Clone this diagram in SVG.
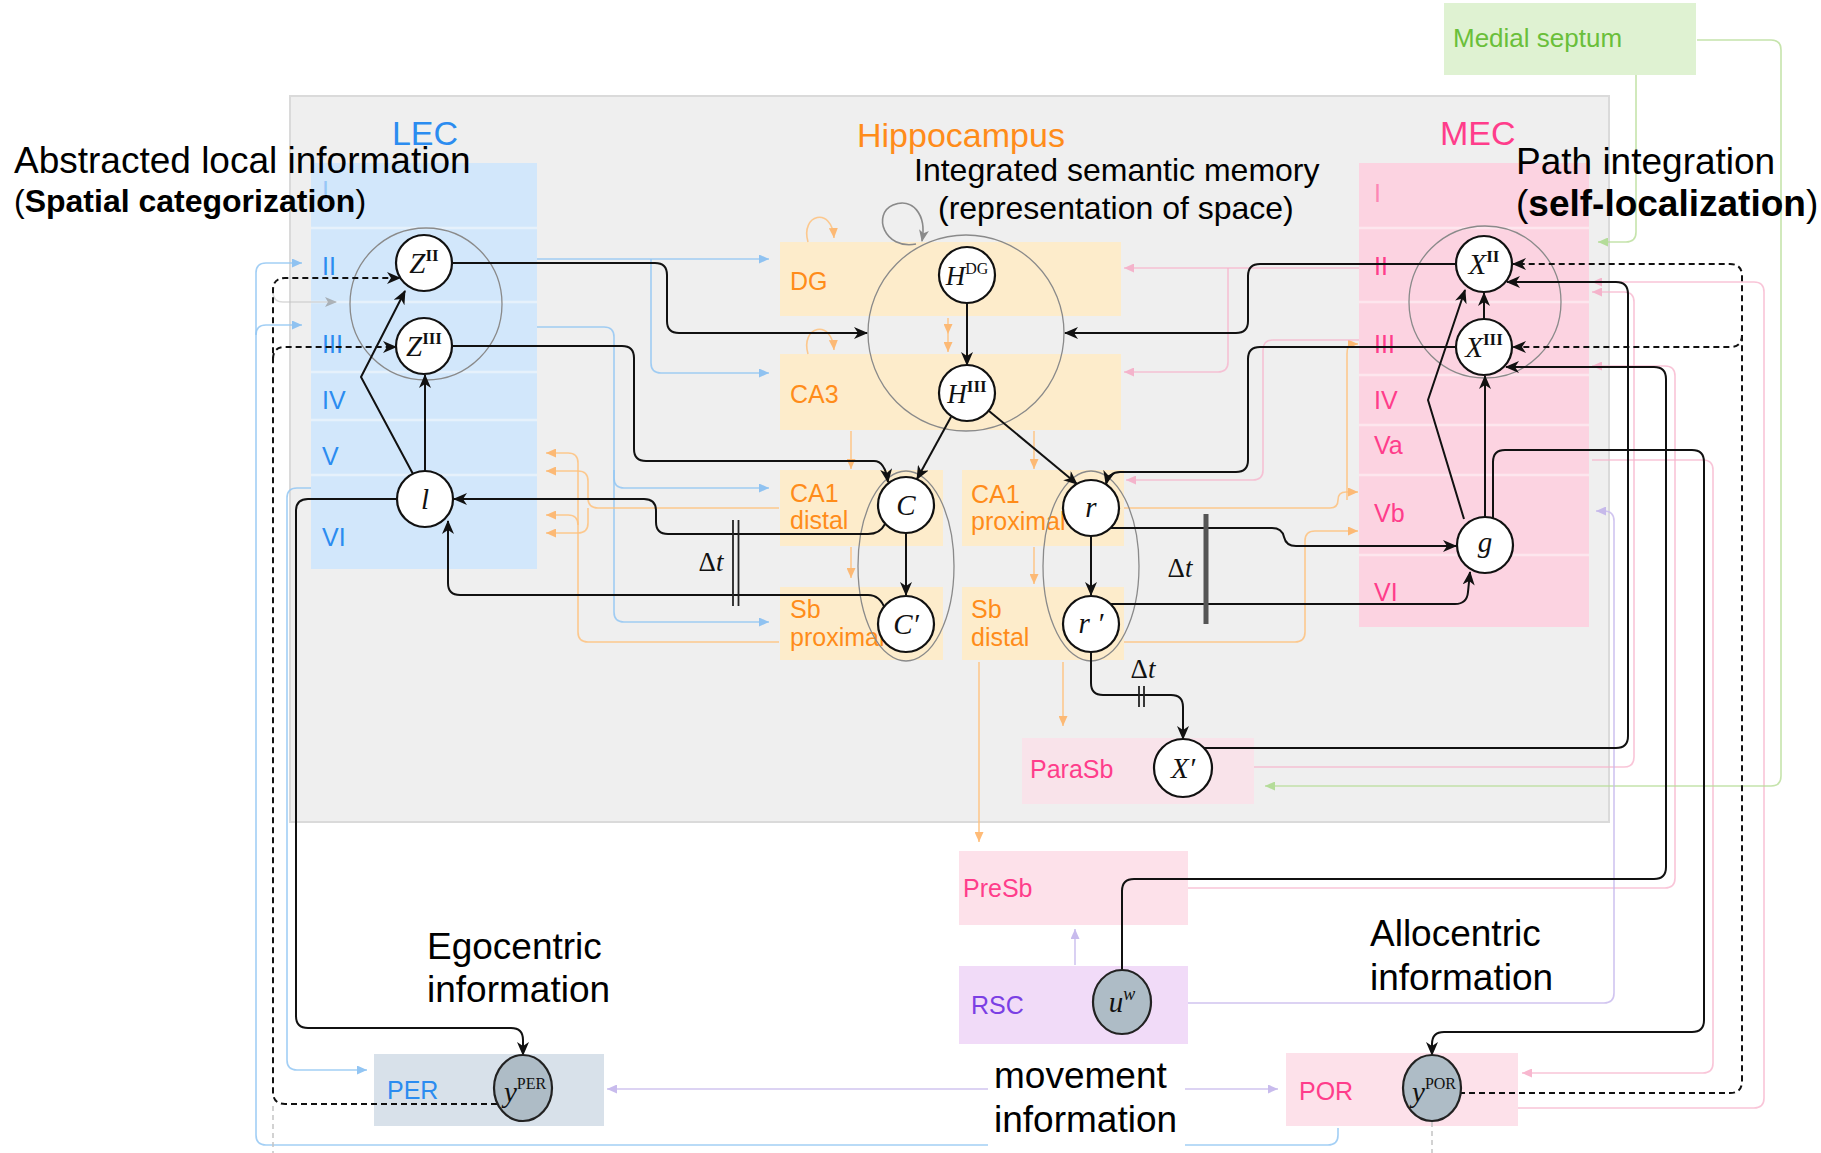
<svg xmlns="http://www.w3.org/2000/svg" width="1821" height="1153" viewBox="0 0 1821 1153">
<defs>
<style>
.t{font-family:"Liberation Sans",Arial,sans-serif;fill:#000}
.big{font-size:37px}
.mid{font-size:32px}
.lab{font-family:"Liberation Sans",Arial,sans-serif;font-size:25px}
.reg{font-family:"Liberation Sans",Arial,sans-serif;font-size:34px}
.blue{fill:#2b8cf0}
.orange{fill:#ff8c1a}
.pink{fill:#ff3d8b}
.purple{fill:#7b3fe4}
.green{fill:#6abf3a}
.nd{fill:#fff;stroke:#111;stroke-width:2.2}
.ndg{fill:#aebcc6;stroke:#222;stroke-width:2.2}
.grp{fill:none;stroke:#8a8a8a;stroke-width:1.3}
.mv{font-family:"Liberation Serif","Times New Roman",serif;font-style:italic;font-size:29px;text-anchor:middle;fill:#111}
.mvs{font-size:27px}
.sup{font-style:normal;font-size:17px;font-weight:bold}
.supn{font-style:normal;font-size:16px}
.c{fill:none;stroke:#111;stroke-width:2;marker-end:url(#ab)}
.d{fill:none;stroke:#111;stroke-width:2;stroke-dasharray:6 4;marker-end:url(#ab)}
.fb{fill:none;stroke:#93c7f4;stroke-width:1.6;marker-end:url(#aB);opacity:.85}
.fo{fill:none;stroke:#ffc27e;stroke-width:1.6;marker-end:url(#aO);opacity:.85}
.fp{fill:none;stroke:#f8b2cb;stroke-width:1.6;marker-end:url(#aP);opacity:.75}
.fg{fill:none;stroke:#b8de98;stroke-width:1.6;marker-end:url(#aG);opacity:.8}
.fv{fill:none;stroke:#c9bbee;stroke-width:1.6;marker-end:url(#aV);opacity:.85}
.fl{fill:none;stroke:#c4c4c4;stroke-width:1.5;stroke-dasharray:5 4}
.dt{font-family:"Liberation Serif","Times New Roman",serif;font-size:27px;fill:#111;text-anchor:middle}
</style>
<marker id="ab" viewBox="0 0 14 12" refX="13" refY="6" markerWidth="14" markerHeight="12" markerUnits="userSpaceOnUse" orient="auto"><path d="M0,0 L14,6 L0,12 L4,6 z" fill="#111"/></marker>
<marker id="aGr" viewBox="0 0 12 10" refX="11" refY="5" markerWidth="12" markerHeight="10" markerUnits="userSpaceOnUse" orient="auto"><path d="M0,0 L12,5 L0,10 L3,5 z" fill="#8a8a8a"/></marker>
<marker id="aB" viewBox="0 0 10 9" refX="10" refY="4.5" markerWidth="10" markerHeight="9" markerUnits="userSpaceOnUse" orient="auto"><path d="M0,0 L10,4.5 L0,9 z" fill="#7fbbf2"/></marker>
<marker id="aO" viewBox="0 0 10 9" refX="10" refY="4.5" markerWidth="10" markerHeight="9" markerUnits="userSpaceOnUse" orient="auto"><path d="M0,0 L10,4.5 L0,9 z" fill="#ffb060"/></marker>
<marker id="aP" viewBox="0 0 10 9" refX="10" refY="4.5" markerWidth="10" markerHeight="9" markerUnits="userSpaceOnUse" orient="auto"><path d="M0,0 L10,4.5 L0,9 z" fill="#f6a0bf"/></marker>
<marker id="aG" viewBox="0 0 10 9" refX="10" refY="4.5" markerWidth="10" markerHeight="9" markerUnits="userSpaceOnUse" orient="auto"><path d="M0,0 L10,4.5 L0,9 z" fill="#a6d884"/></marker>
<marker id="aV" viewBox="0 0 10 9" refX="10" refY="4.5" markerWidth="10" markerHeight="9" markerUnits="userSpaceOnUse" orient="auto"><path d="M0,0 L10,4.5 L0,9 z" fill="#bfb0ea"/></marker>
</defs>

<rect x="0" y="0" width="1821" height="1153" fill="#fff"/>

<g id="regions">
  <rect id="main-box" x="290" y="96" width="1319" height="726" fill="#efefef" stroke="#dadada" stroke-width="2"/>
  <rect id="medial-septum-box" x="1444" y="3" width="252" height="72" fill="#dff2d2"/>
  <rect id="lec-box" x="311" y="163" width="226" height="406" fill="#d2e7fb"/>
  <g stroke="#e6f1fb" stroke-width="2.5">
    <line x1="311" y1="228" x2="537" y2="228"/>
    <line x1="311" y1="302" x2="537" y2="302"/>
    <line x1="311" y1="372" x2="537" y2="372"/>
    <line x1="311" y1="420" x2="537" y2="420"/>
    <line x1="311" y1="475" x2="537" y2="475"/>
  </g>
  <rect id="mec-box" x="1359" y="163" width="230" height="464" fill="#fcd3e1"/>
  <g stroke="#fde6ee" stroke-width="2.5">
    <line x1="1359" y1="228" x2="1589" y2="228"/>
    <line x1="1359" y1="302" x2="1589" y2="302"/>
    <line x1="1359" y1="375" x2="1589" y2="375"/>
    <line x1="1359" y1="425" x2="1589" y2="425"/>
    <line x1="1359" y1="475" x2="1589" y2="475"/>
    <line x1="1359" y1="555" x2="1589" y2="555"/>
  </g>
  <g fill="#fdeccb">
    <rect x="780" y="242" width="341" height="74"/>
    <rect x="780" y="354" width="341" height="76"/>
    <rect x="780" y="470" width="163" height="76"/>
    <rect x="780" y="587" width="163" height="73"/>
    <rect x="962" y="470" width="162" height="76"/>
    <rect x="962" y="587" width="162" height="73"/>
  </g>
  <rect x="1022" y="738" width="232" height="66" fill="#f9e3ea"/>
  <rect x="959" y="851" width="229" height="74" fill="#fde1ea"/>
  <rect x="959" y="966" width="229" height="78" fill="#f1dbf8"/>
  <rect x="374" y="1054" width="230" height="72" fill="#d8e1ea"/>
  <rect x="1286" y="1053" width="232" height="73" fill="#fde1ea"/>
</g>

<g id="region-labels">
  <text class="reg blue" x="425" y="145" text-anchor="middle">LEC</text>
  <text class="reg orange" x="857" y="147">Hippocampus</text>
  <text class="reg pink" x="1440" y="145">MEC</text>
  <text class="green" x="1453" y="47" font-family="Liberation Sans, Arial, sans-serif" font-size="26">Medial septum</text>
  <g class="lab blue">
    <text x="322" y="199" opacity="0.35">I</text>
    <text x="322" y="275">II</text>
    <text x="322" y="353">III</text>
    <text x="322" y="409">IV</text>
    <text x="322" y="465">V</text>
    <text x="322" y="546">VI</text>
  </g>
  <g class="lab pink">
    <text x="1374" y="202" opacity="0.5">I</text>
    <text x="1374" y="275">II</text>
    <text x="1374" y="353">III</text>
    <text x="1374" y="409">IV</text>
    <text x="1374" y="454">Va</text>
    <text x="1374" y="522">Vb</text>
    <text x="1374" y="601">VI</text>
  </g>
  <g class="lab orange">
    <text x="790" y="290">DG</text>
    <text x="790" y="403">CA3</text>
    <text x="790" y="502">CA1</text>
    <text x="790" y="529">distal</text>
    <text x="790" y="618">Sb</text>
    <text x="790" y="646">proximal</text>
    <text x="971" y="503">CA1</text>
    <text x="971" y="530">proximal</text>
    <text x="971" y="618">Sb</text>
    <text x="971" y="646">distal</text>
  </g>
  <text class="lab pink" x="1030" y="778">ParaSb</text>
  <text class="lab pink" x="963" y="897">PreSb</text>
  <text class="lab purple" x="971" y="1014">RSC</text>
  <text class="lab blue" x="387" y="1099">PER</text>
  <text class="lab pink" x="1299" y="1100">POR</text>
</g>

<g id="faint-connectors">
  <path class="fb" d="M1338,1128 V1135 Q1338,1145 1328,1145 H266 Q256,1145 256,1135 V273 Q256,263 266,263 H302"/>
  <path class="fb" d="M256,335 Q256,325 266,325 H302"/>
  <path class="fb" d="M311,488 H297 Q287,488 287,498 V1060 Q287,1070 297,1070 H367"/>
  <path class="fb" d="M537,259 H769"/>
  <path class="fb" d="M651,259 V363 Q651,373 661,373 H769"/>
  <path class="fb" d="M537,327 H604 Q614,327 614,337 V478 Q614,488 624,488 H769"/>
  <path class="fb" d="M614,470 V612 Q614,622 624,622 H769"/>
  <path class="fo" d="M779,508 H598 Q588,508 588,498 V481 Q588,471 578,471 H546"/>
  <path class="fo" d="M588,508 V523 Q588,533 578,533 H546"/>
  <path class="fo" d="M779,642 H588 Q578,642 578,632 V463 Q578,453 568,453 H546"/>
  <path class="fo" d="M578,525 Q578,515 568,515 H546"/>
  <path class="fo" d="M851,431 V469"/>
  <path class="fo" d="M851,547 V578"/>
  <path class="fo" d="M1034,431 V469"/>
  <path class="fo" d="M1034,547 V584"/>
  <path class="fo" d="M948,318 V334"/>
  <path class="fo" d="M948,334 V352"/>
  <path class="fo" d="M808,242 C800,214 832,206 834,238"/>
  <path class="fo" d="M808,354 C800,326 832,318 834,350"/>
  <path class="fo" d="M979,662 V842"/>
  <path class="fo" d="M1063,662 V726"/>
  <path class="fo" d="M1124,508 H1330 Q1338,508 1338,500 Q1338,492 1346,492 H1358"/>
  <path class="fo" d="M1124,642 H1295 Q1305,642 1305,632 V541 Q1305,531 1315,531 H1358"/>
  <path class="fo" d="M1347,500 V354 Q1347,344 1352,344 H1358"/>
  <path class="fp" d="M1359,268 H1124"/>
  <path class="fp" d="M1228,268 V362 Q1228,372 1218,372 H1124"/>
  <path class="fp" d="M1359,340 H1273 Q1263,340 1263,350 V470 Q1263,480 1253,480 H1126"/>
  <path class="fp" d="M1254,767 H1624 Q1634,767 1634,757 V302 Q1634,292 1624,292 H1592"/>
  <path class="fp" d="M1188,888 H1665 Q1675,888 1675,878 V376 Q1675,366 1665,366 H1592"/>
  <path class="fp" d="M1592,460 H1703 Q1713,460 1713,470 V1063 Q1713,1073 1703,1073 H1522"/>
  <path class="fp" d="M1518,1108 H1754 Q1764,1108 1764,1098 V292 Q1764,282 1754,282 H1592"/>
  <path class="fg" d="M1636,75 V232 Q1636,242 1626,242 H1598"/>
  <path class="fg" d="M1697,40 H1771 Q1781,40 1781,50 V776 Q1781,786 1771,786 H1265"/>
  <path class="fv" d="M1188,1003 H1604 Q1614,1003 1614,993 V521 Q1614,511 1604,511 H1596"/>
  <path class="fv" d="M1075,965 V929"/>
  <path class="fv" d="M990,1089 H607"/>
  <path class="fv" d="M1185,1089 H1278"/>
  <path class="fl" d="M273,1106 V1153"/>
  <path class="fl" d="M1432,1122 V1153"/>
  <path fill="none" stroke="#c4c4c4" stroke-width="1.5" marker-end="url(#aGr)" d="M273,292 Q273,302 283,302 H336" opacity="0.6"/>
</g>

<g id="group-ellipses">
  <circle class="grp" cx="426" cy="304" r="76"/>
  <circle class="grp" cx="966" cy="333" r="98"/>
  <ellipse class="grp" cx="906" cy="566" rx="48" ry="95"/>
  <ellipse class="grp" cx="1091" cy="566" rx="48" ry="95"/>
  <circle class="grp" cx="1485" cy="302" r="76"/>
  <path fill="none" stroke="#8a8a8a" stroke-width="1.6" marker-end="url(#aGr)" d="M916,244 C884,250 872,214 893,205 C912,197 927,214 922,241"/>
</g>

<g id="connectors">
  <path class="c" d="M452,263 H655 Q667,263 667,275 V321 Q667,333 679,333 H867"/>
  <path class="c" d="M452,346 H622 Q634,346 634,358 V449 Q634,461 646,461 H874 Q885,461 888,482"/>
  <path class="c" d="M967,303 V365"/>
  <path class="c" d="M951,417 L917,479"/>
  <path class="c" d="M989,411 L1077,484"/>
  <path class="c" d="M1456,264 H1260 Q1248,264 1248,276 V321 Q1248,333 1236,333 H1065"/>
  <path class="c" d="M1456,347 H1260 Q1248,347 1248,359 V460 Q1248,472 1236,472 H1120 Q1109,472 1106,484"/>
  <path class="c" d="M413,474 L361,377 L405,291"/>
  <path class="c" d="M425,471 V375"/>
  <path class="c" d="M885,524 Q880,534 868,534 H668 Q656,534 656,522 V511 Q656,499 644,499 H454"/>
  <path class="c" d="M885,609 Q880,595 868,595 H460 Q448,595 448,583 V521"/>
  <path class="c" d="M1110,528 H1272 Q1282,528 1284,537 Q1286,546 1296,546 H1456"/>
  <path class="c" d="M1110,604 H1455 Q1467,604 1468,592 L1470,572"/>
  <path class="c" d="M906,533 V595"/>
  <path class="c" d="M1091,536 V595"/>
  <path class="c" d="M1091,652 V683 Q1091,695 1103,695 H1171 Q1183,695 1183,707 V739"/>
  <path class="c" d="M1203,748 H1616 Q1628,748 1628,736 V294 Q1628,282 1616,282 H1507"/>
  <path class="c" d="M1122,972 V891 Q1122,879 1134,879 H1654 Q1666,879 1666,867 V379 Q1666,367 1654,367 H1506"/>
  <path class="c" d="M1485,517 V376"/>
  <path class="c" d="M1464,519 L1428,400 L1465,290"/>
  <path class="c" d="M1484,319 V293"/>
  <path class="c" d="M1493,518 V462 Q1493,450 1505,450 H1692 Q1704,450 1704,462 V1020 Q1704,1032 1692,1032 H1444 Q1432,1032 1432,1044 V1055"/>
  <path class="c" d="M397,499 H308 Q296,499 296,511 V1016 Q296,1028 308,1028 H511 Q523,1028 523,1040 V1055"/>
  <path class="d" d="M497,1104 H285 Q273,1104 273,1092 V290 Q273,278 285,278 H400"/>
  <path class="d" d="M273,359 Q273,347 285,347 H396"/>
  <path class="d" d="M1459,1093 H1730 Q1742,1093 1742,1081 V276 Q1742,264 1730,264 H1513"/>
  <path class="d" d="M1742,335 Q1742,347 1730,347 H1513"/>
</g>

<g id="delay-marks">
  <line x1="733" y1="520" x2="733" y2="606" stroke="#222" stroke-width="1.8"/>
  <line x1="738.5" y1="520" x2="738.5" y2="606" stroke="#222" stroke-width="1.8"/>
  <text class="dt" x="711" y="571">Δ<tspan font-style="italic">t</tspan></text>
  <line x1="1206" y1="514" x2="1206" y2="624" stroke="#555" stroke-width="5"/>
  <text class="dt" x="1180" y="577">Δ<tspan font-style="italic">t</tspan></text>
  <line x1="1139" y1="686" x2="1139" y2="707" stroke="#222" stroke-width="1.8"/>
  <line x1="1144" y1="686" x2="1144" y2="707" stroke="#222" stroke-width="1.8"/>
  <text class="dt" x="1143" y="678">Δ<tspan font-style="italic">t</tspan></text>
</g>

<g id="node-Z2"><circle class="nd" cx="424" cy="263" r="28"/><text class="mv" x="424" y="273">Z<tspan class="sup" dy="-12">II</tspan></text></g>
<g id="node-Z3"><circle class="nd" cx="424" cy="346" r="28"/><text class="mv" x="424" y="356">Z<tspan class="sup" dy="-12">III</tspan></text></g>
<g id="node-l"><circle class="nd" cx="425" cy="499" r="28"/><text class="mv" x="425" y="509">l</text></g>
<g id="node-HDG"><circle class="nd" cx="967" cy="275" r="28"/><text class="mv mvs" x="967" y="285">H<tspan class="supn" dy="-11">DG</tspan></text></g>
<g id="node-H3"><circle class="nd" cx="967" cy="393" r="28"/><text class="mv mvs" x="967" y="403">H<tspan class="sup" dy="-11">III</tspan></text></g>
<g id="node-C"><circle class="nd" cx="906" cy="505" r="28"/><text class="mv" x="906" y="515">C</text></g>
<g id="node-Cp"><circle class="nd" cx="906" cy="624" r="28"/><text class="mv" x="906" y="634">C′</text></g>
<g id="node-r"><circle class="nd" cx="1091" cy="508" r="28"/><text class="mv" x="1091" y="517">r</text></g>
<g id="node-rp"><circle class="nd" cx="1091" cy="624" r="28"/><text class="mv" x="1091" y="633">r ′</text></g>
<g id="node-g"><circle class="nd" cx="1485" cy="545" r="28"/><text class="mv" x="1485" y="552">g</text></g>
<g id="node-X2"><circle class="nd" cx="1484" cy="264" r="28"/><text class="mv" x="1484" y="274">X<tspan class="sup" dy="-12">II</tspan></text></g>
<g id="node-X3"><circle class="nd" cx="1484" cy="347" r="28"/><text class="mv" x="1484" y="357">X<tspan class="sup" dy="-12">III</tspan></text></g>
<g id="node-Xp"><circle class="nd" cx="1183" cy="768" r="29"/><text class="mv" x="1183" y="778">X′</text></g>
<g id="node-yPER"><ellipse class="ndg" cx="523" cy="1088" rx="29" ry="33"/><text class="mv" x="525" y="1102">y<tspan class="supn" dy="-13">PER</tspan></text></g>
<g id="node-yPOR"><ellipse class="ndg" cx="1432" cy="1088" rx="29" ry="33"/><text class="mv" x="1434" y="1102">y<tspan class="supn" dy="-13">POR</tspan></text></g>
<g id="node-uw"><ellipse class="ndg" cx="1122" cy="1002" rx="29" ry="32"/><text class="mv" x="1122" y="1012">u<tspan font-size="18" dy="-12">w</tspan></text></g>

<g id="annotations">
  <text class="t big" x="14" y="173">Abstracted local information</text>
  <text class="t" x="14" y="212" font-size="32">(<tspan font-weight="bold">Spatial categorization</tspan>)</text>
  <text class="t mid" x="914" y="181">Integrated semantic memory</text>
  <text class="t mid" x="938" y="219">(representation of space)</text>
  <text class="t big" x="1516" y="174">Path integration</text>
  <text class="t big" x="1516" y="216">(<tspan font-weight="bold">self-localization</tspan>)</text>
  <text class="t big" x="427" y="959">Egocentric</text>
  <text class="t big" x="427" y="1002">information</text>
  <text class="t big" x="1370" y="946">Allocentric</text>
  <text class="t big" x="1370" y="990">information</text>
  <rect x="988" y="1060" width="197" height="86" fill="#fff"/>
  <text class="t big" x="994" y="1088">movement</text>
  <text class="t big" x="994" y="1132">information</text>
</g>
</svg>
